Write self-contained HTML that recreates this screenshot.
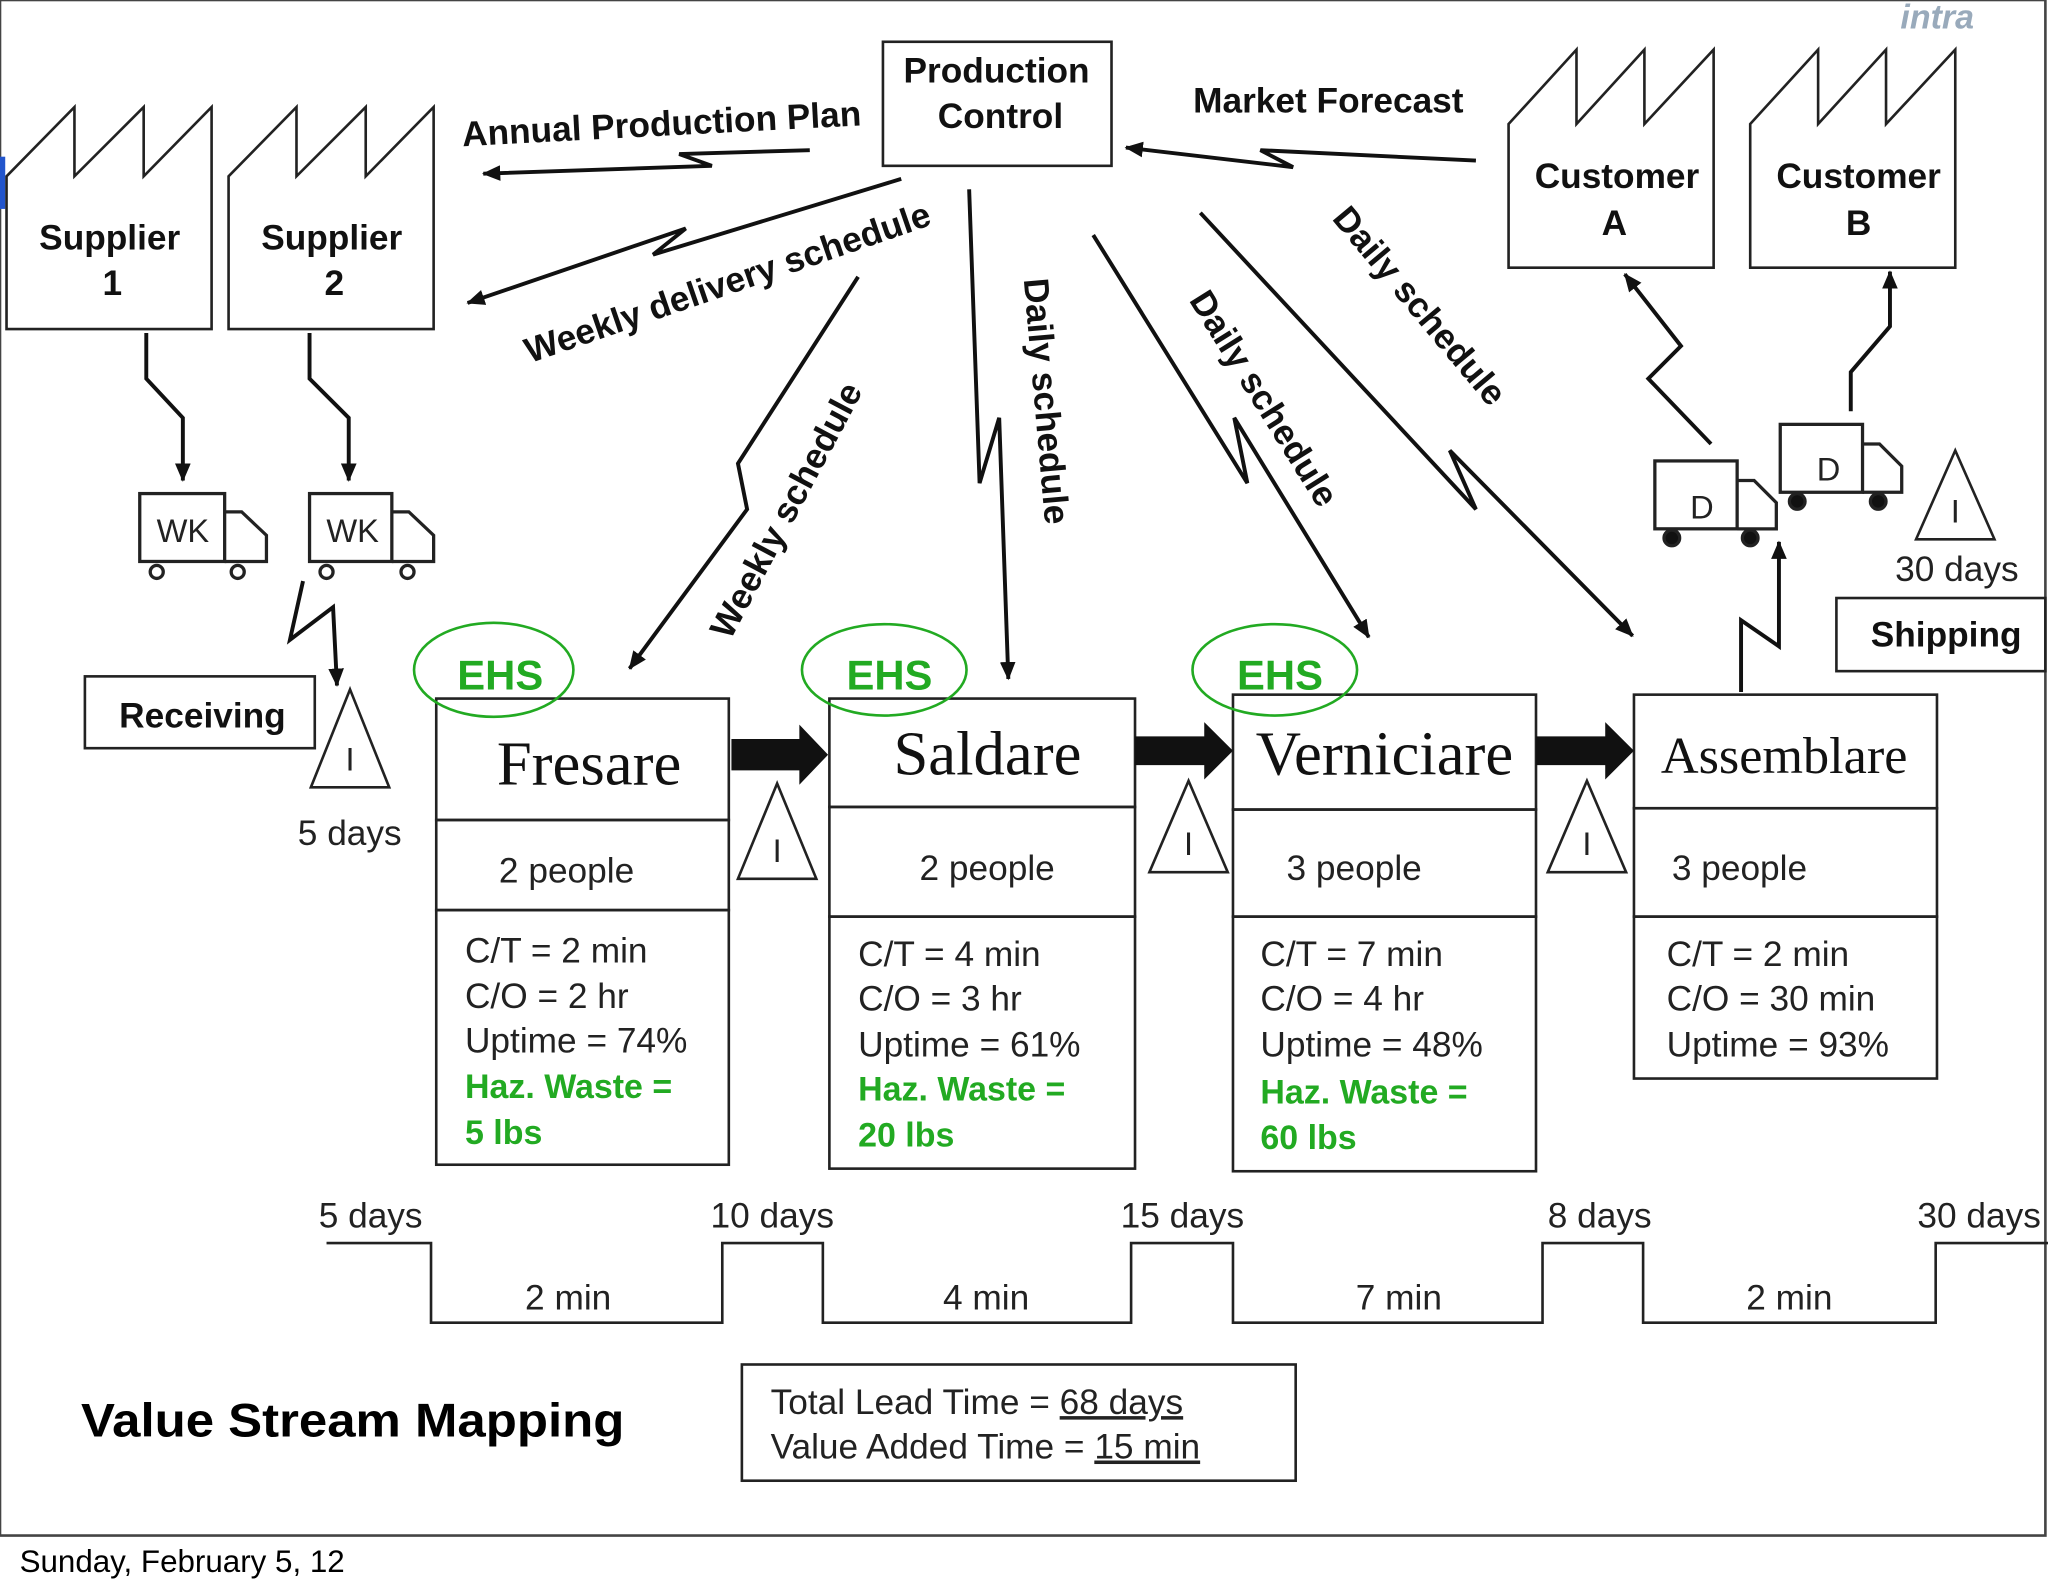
<!DOCTYPE html>
<html><head><meta charset="utf-8"><style>
html,body{margin:0;padding:0;background:#fff}
svg{display:block}
text{font-family:"Liberation Sans",Arial,sans-serif}
text.serif{font-family:"Liberation Serif",serif}
.b{font-weight:bold}
</style></head><body>
<svg width="2048" height="1593" viewBox="0 0 1568 1220" preserveAspectRatio="none" xmlns="http://www.w3.org/2000/svg">
<defs>
<marker id="ar" markerWidth="14" markerHeight="12" refX="13" refY="6" orient="auto" markerUnits="userSpaceOnUse"><path d="M0,0 L14,6 L0,12 Z" fill="#111"/></marker>
</defs>
<rect x="0" y="0" width="1566" height="1176" fill="#fff" stroke="#444" stroke-width="2"/>
<rect x="0" y="120" width="4" height="40" fill="#2255cc"/>
<text x="1455" y="22" font-size="26" fill="#9ab" class="b" font-style="italic">intra</text>

<g fill="none" stroke="#222" stroke-width="2">
<path d="M5,252 V135 L57,82 V135 L110,82 V135 L162,82 V252 Z"/>
<path d="M175,252 V135 L227,82 V135 L280,82 V135 L332,82 V252 Z"/>
<path d="M1155,205 V95 L1207,38 V95 L1259,38 V95 L1312,38 V205 Z"/>
<path d="M1340,205 V95 L1392,38 V95 L1444,38 V95 L1497,38 V205 Z"/>
<rect x="676" y="32" width="175" height="95"/>
<rect x="65" y="518" width="176" height="55"/>
<rect x="1406" y="458" width="160" height="56"/>
<rect x="334" y="535" width="224" height="93"/><rect x="334" y="628" width="224" height="69"/><rect x="334" y="697" width="224" height="195"/>
<rect x="635" y="535" width="234" height="83"/><rect x="635" y="618" width="234" height="84"/><rect x="635" y="702" width="234" height="193"/>
<rect x="944" y="532" width="232" height="88"/><rect x="944" y="620" width="232" height="82"/><rect x="944" y="702" width="232" height="195"/>
<rect x="1251" y="532" width="232" height="87"/><rect x="1251" y="619" width="232" height="83"/><rect x="1251" y="702" width="232" height="124"/>
<path d="M250,952 H330 V1013 H553 V952 H630 V1013 H866 V952 H944 V1013 H1181 V952 H1258 V1013 H1482 V952 H1568"/>
<rect x="568" y="1045" width="424" height="89"/>
<path d="M268,528 L298,603 L238,603 Z"/>
<path d="M595,600 L625,673 L565,673 Z"/>
<path d="M910,598 L940,668 L880,668 Z"/>
<path d="M1215,598 L1245,668 L1185,668 Z"/>
<path d="M1497,345 L1527,413 L1467,413 Z"/>
<g stroke="#2a2" stroke-width="2"><ellipse cx="378" cy="513" rx="61" ry="36"/><ellipse cx="677" cy="513" rx="63" ry="35"/><ellipse cx="976" cy="513" rx="63" ry="35"/></g>
<g stroke-width="2.5">
<rect x="107" y="378" width="65" height="52"/><path d="M172,392 H185 L204,410 V430 H172"/><circle cx="120" cy="438" r="5"/><circle cx="182" cy="438" r="5"/>
<rect x="237" y="378" width="63" height="52"/><path d="M300,392 H313 L332,410 V430 H300"/><circle cx="250" cy="438" r="5"/><circle cx="312" cy="438" r="5"/>
<rect x="1267" y="353" width="63" height="52"/><path d="M1330,368 H1343 L1360,385 V405 H1330"/><circle cx="1280" cy="412" r="6" fill="#111"/><circle cx="1340" cy="412" r="6" fill="#111"/>
<rect x="1363" y="325" width="63" height="52"/><path d="M1426,340 H1439 L1456,357 V377 H1426"/><circle cx="1376" cy="384" r="6" fill="#111"/><circle cx="1438" cy="384" r="6" fill="#111"/>
</g>
<g stroke-width="3" stroke="#111">
<path d="M620,115 L520,118 L545,127 L370,133" marker-end="url(#ar)"/>
<path d="M690,137 L500,195 L525,175 L358,232" marker-end="url(#ar)"/>
<path d="M1130,123 L965,115 L990,128 L862,113" marker-end="url(#ar)"/>
<path d="M657,212 L565,355 L572,390 L482,512" marker-end="url(#ar)"/>
<path d="M742,145 L750,370 L765,320 L772,520" marker-end="url(#ar)"/>
<path d="M837,180 L955,370 L945,320 L1048,488" marker-end="url(#ar)"/>
<path d="M919,163 L1130,390 L1110,345 L1250,487" marker-end="url(#ar)"/>
<path d="M112,255 V290 L140,320 V368" marker-end="url(#ar)"/>
<path d="M237,255 V290 L267,320 V368" marker-end="url(#ar)"/>
<path d="M232,445 L222,490 L255,465 L258,525" marker-end="url(#ar)"/>
<path d="M1310,340 L1262,290 L1287,265 L1244,210" marker-end="url(#ar)"/>
<path d="M1417,315 V285 L1447,250 V208" marker-end="url(#ar)"/>
<path d="M1333,530 V475 L1362,495 V415" marker-end="url(#ar)"/>
</g>
</g>
<g fill="#111">
<path d="M560,566 H612 V555 L634,578 L612,601 V590 H560 Z"/>
<path d="M869,564 H922 V553 L944,575 L922,597 V586 H869 Z"/>
<path d="M1176,564 H1229 V553 L1251,575 L1229,597 V586 H1176 Z"/>
</g>

<g font-size="27" class="b" fill="#111" text-anchor="middle">
<text x="763" y="63" class="b">Production</text><text x="766" y="98" class="b">Control</text>
<text x="84" y="191" class="b">Supplier</text><text x="86" y="226" class="b">1</text>
<text x="254" y="191" class="b">Supplier</text><text x="256" y="226" class="b">2</text>
<text x="1238" y="144" class="b">Customer</text><text x="1236" y="180" class="b">A</text>
<text x="1423" y="144" class="b">Customer</text><text x="1423" y="180" class="b">B</text>
<text x="155" y="557" class="b">Receiving</text>
<text x="1490" y="495" class="b">Shipping</text>
<text x="1017" y="86" class="b">Market Forecast</text>
<text x="507" y="104" class="b" transform="rotate(-3 507 104)">Annual Production Plan</text>
<text x="560" y="225" class="b" transform="rotate(-19 560 225)">Weekly delivery schedule</text>
<text x="610" y="395" class="b" transform="rotate(-62 610 395)">Weekly schedule</text>
<text x="792" y="308" class="b" transform="rotate(85 792 308)">Daily schedule</text>
<text x="960" y="310" class="b" transform="rotate(58 960 310)">Daily schedule</text>
<text x="1080" y="240" class="b" transform="rotate(50 1080 240)">Daily schedule</text>
</g>
<g font-size="32" font-weight="bold" fill="#2a2" text-anchor="middle"><text x="383" y="528">EHS</text><text x="681" y="528">EHS</text><text x="980" y="528">EHS</text></g>
<g font-size="48" fill="#111" text-anchor="middle">
<text class="serif" x="451" y="601">Fresare</text><text class="serif" x="756" y="593">Saldare</text><text class="serif" x="1060" y="593">Verniciare</text><text class="serif" x="1366" y="592" font-size="40">Assemblare</text>
</g>
<g font-size="27" fill="#222">
<text x="382" y="676">2 people</text><text x="704" y="674">2 people</text><text x="985" y="674">3 people</text><text x="1280" y="674">3 people</text>
<text x="356" y="737">C/T = 2 min</text><text x="356" y="772">C/O = 2 hr</text><text x="356" y="806">Uptime = 74%</text>
<text x="657" y="740">C/T = 4 min</text><text x="657" y="774">C/O = 3 hr</text><text x="657" y="809">Uptime = 61%</text>
<text x="965" y="740">C/T = 7 min</text><text x="965" y="774">C/O = 4 hr</text><text x="965" y="809">Uptime = 48%</text>
<text x="1276" y="740">C/T = 2 min</text><text x="1276" y="774">C/O = 30 min</text><text x="1276" y="809">Uptime = 93%</text>
<text x="228" y="647">5 days</text><text x="1451" y="445">30 days</text>
<text x="244" y="940">5 days</text><text x="544" y="940">10 days</text><text x="858" y="940">15 days</text><text x="1185" y="940">8 days</text><text x="1468" y="940">30 days</text>
<text x="402" y="1003">2 min</text><text x="722" y="1003">4 min</text><text x="1038" y="1003">7 min</text><text x="1337" y="1003">2 min</text>
<text x="590" y="1083">Total Lead Time = <tspan text-decoration="underline">68 days</tspan></text>
<text x="590" y="1117">Value Added Time = <tspan text-decoration="underline">15 min</tspan></text>
</g>
<g font-size="26" font-weight="bold" fill="#2a2">
<text x="356" y="841">Haz. Waste =</text><text x="356" y="876">5 lbs</text>
<text x="657" y="843">Haz. Waste =</text><text x="657" y="878">20 lbs</text>
<text x="965" y="845">Haz. Waste =</text><text x="965" y="880">60 lbs</text>
</g>
<g font-size="25" fill="#222" text-anchor="middle"><text x="140" y="415">WK</text><text x="270" y="415">WK</text><text x="1303" y="397">D</text><text x="1400" y="368">D</text><text x="268" y="590">I</text><text x="595" y="660">I</text><text x="910" y="655">I</text><text x="1215" y="655">I</text><text x="1497" y="400">I</text></g>
<text x="62" y="1100" font-size="36" font-weight="bold" fill="#000" textLength="416" lengthAdjust="spacingAndGlyphs">Value Stream Mapping</text>
<text x="15" y="1204" font-size="24" fill="#000">Sunday, February 5, 12</text>
</svg>
</body></html>
